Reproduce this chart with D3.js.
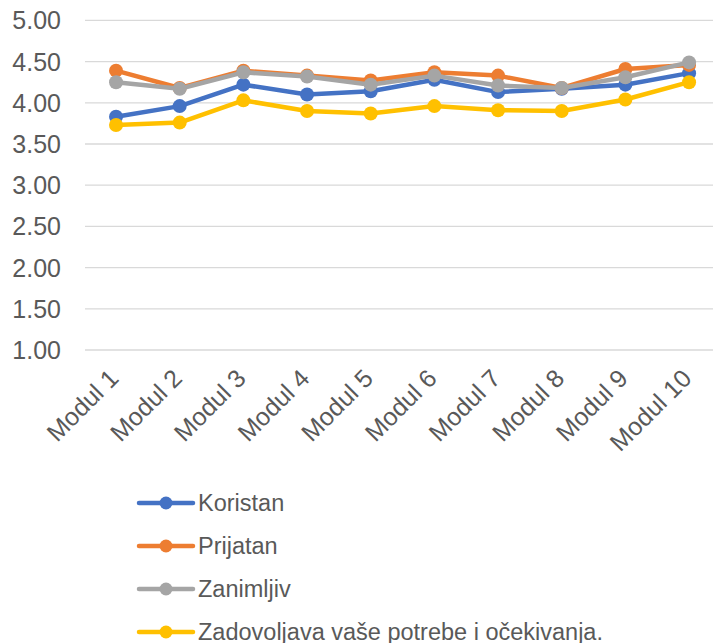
<!DOCTYPE html>
<html><head><meta charset="utf-8">
<script src="https://cdn.jsdelivr.net/npm/d3@7"></script>
<style>
html,body{margin:0;padding:0;background:#fff;overflow:hidden;}
svg{display:block;font-family:"Liberation Sans",Arial,sans-serif;}
</style></head>
<body>
<svg id="chart" width="713" height="643"></svg>
<script>
const categories = ["Modul 1","Modul 2","Modul 3","Modul 4","Modul 5","Modul 6","Modul 7","Modul 8","Modul 9","Modul 10"];
const seriesNames = ["Koristan","Prijatan","Zanimljiv","Zadovoljava vaše potrebe i očekivanja."];
const koristan    = [3.83,3.96,4.22,4.10,4.14,4.28,4.13,4.17,4.22,4.36];
const prijatan    = [4.39,4.18,4.39,4.33,4.27,4.37,4.33,4.18,4.41,4.46];
const zanimljiv   = [4.25,4.17,4.37,4.32,4.22,4.33,4.21,4.18,4.31,4.49];
const zadovoljava = [3.73,3.76,4.03,3.90,3.87,3.96,3.91,3.90,4.04,4.25];
const yTicks = [1,1.5,2,2.5,3,3.5,4,4.5,5];
const colors = ["#4472C4","#ED7D31","#A5A5A5","#FFC000"];

const seriesValues = [koristan, prijatan, zanimljiv, zadovoljava];
const svg = d3.select("#chart");
const x = d3.scalePoint().domain(categories).range([84.2, 720.9]).padding(0.5);
const y = d3.scaleLinear().domain([1,5]).range([350, 20.4]);

// gridlines
svg.append("g").selectAll("line").data(yTicks).join("line")
  .attr("x1", 85).attr("x2", 713)
  .attr("y1", d => y(d)).attr("y2", d => y(d))
  .attr("stroke", "#d9d9d9").attr("stroke-width", 1.3);

// y labels
svg.append("g").selectAll("text").data(yTicks).join("text")
  .attr("x", 61).attr("y", d => y(d)).attr("dy", "0.36em")
  .attr("text-anchor", "end").attr("font-size", 25).attr("fill", "#595959")
  .text(d => d3.format(".2f")(d));

// x labels
svg.append("g").selectAll("text").data(categories).join("text")
  .attr("text-anchor", "end").attr("font-size", 25).attr("fill", "#595959")
  .attr("transform", d => `translate(${x(d)+4},${380}) rotate(-45)`)
  .text(d => d);

// lines
const line = d3.line().x((d,i) => x(categories[i])).y(d => y(d));
seriesValues.forEach((vals, si) => {
  const g = svg.append("g");
  g.append("path").datum(vals).attr("d", line)
    .attr("fill", "none").attr("stroke", colors[si]).attr("stroke-width", 4.5)
    .attr("stroke-linejoin", "round").attr("stroke-linecap", "round");
  g.selectAll("circle").data(vals).join("circle")
    .attr("cx", (d,i) => x(categories[i])).attr("cy", d => y(d))
    .attr("r", 7).attr("fill", colors[si]);
});

// legend
const lg = svg.append("g");
seriesNames.forEach((name, i) => {
  const cy = 503 + i*43;
  lg.append("line").attr("x1", 139).attr("x2", 193).attr("y1", cy).attr("y2", cy)
    .attr("stroke", colors[i]).attr("stroke-width", 4.5).attr("stroke-linecap", "round");
  lg.append("circle").attr("cx", 166).attr("cy", cy).attr("r", 6.5).attr("fill", colors[i]);
  lg.append("text").attr("x", 198).attr("y", cy).attr("dy", "0.36em")
    .attr("font-size", 23.5).attr("fill", "#595959").text(name);
});
</script>
</body></html>
